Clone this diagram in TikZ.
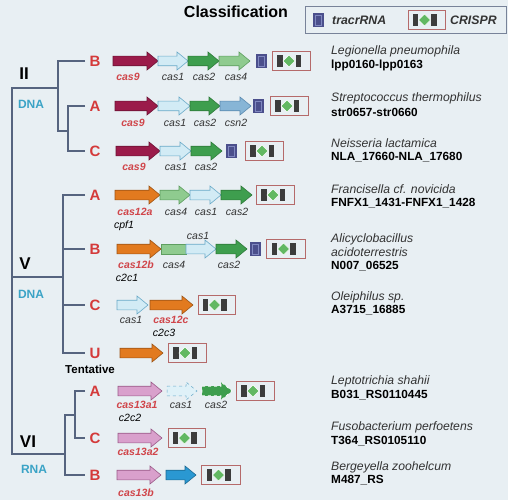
\documentclass[tikz,border=0pt]{standalone}
\usepackage{fontspec}
\setmainfont{Liberation Sans}
\definecolor{bg}{HTML}{E8EFF3}
\definecolor{treec}{HTML}{56647F}
\definecolor{labred}{HTML}{D43A3A}
\definecolor{genered}{HTML}{D0454A}
\definecolor{dnac}{HTML}{3AA3C6}
\definecolor{c9}{HTML}{9B1B4A}
\definecolor{c1f}{HTML}{D2EBF5}
\definecolor{c1d}{HTML}{6AAAC8}
\definecolor{c2}{HTML}{3E9E4E}
\definecolor{c2d}{HTML}{2E7A3A}
\definecolor{c4}{HTML}{8FCB8F}
\definecolor{c4d}{HTML}{5E9E60}
\definecolor{csn}{HTML}{87B5D6}
\definecolor{csnd}{HTML}{5A8AB0}
\definecolor{orng}{HTML}{E27A1F}
\definecolor{orngd}{HTML}{A85510}
\definecolor{pnk}{HTML}{D9A0CC}
\definecolor{pnkd}{HTML}{9A5A88}
\definecolor{blu}{HTML}{2A98D2}
\definecolor{blud}{HTML}{1A6A9A}
\definecolor{trc}{HTML}{4B4F8C}
\definecolor{trcl}{HTML}{8088C0}
\definecolor{crb}{HTML}{B56A6A}
\definecolor{blk}{HTML}{3C3C3C}
\definecolor{dia}{HTML}{62B862}
\definecolor{txt}{HTML}{333333}
\newcommand\gene[4][]{%
  \filldraw[line width=0.6pt,#1] (#2,{#4-4.8}) -- ({#3-11},{#4-4.8}) -- ({#3-11},{#4-9}) -- (#3,#4) -- ({#3-11},{#4+9}) -- ({#3-11},{#4+4.8}) -- (#2,{#4+4.8}) -- cycle;}
\newcommand\crispr[3]{%
  \pgfmathsetmacro\cx{(#1+#2)/2-2}
  \filldraw[draw=crb,fill=bg,line width=0.8pt] (#1,{#3-9.5}) rectangle (#2,{#3+9.5});
  \fill[blk] ({\cx-12},{#3-6}) rectangle ({\cx-6.5},{#3+6});
  \fill[blk] ({\cx+6.5},{#3-6}) rectangle ({\cx+12},{#3+6});
  \filldraw[fill=dia,draw=white,line width=0.4pt] ({\cx-6},#3) -- (\cx,{#3-6}) -- ({\cx+6},#3) -- (\cx,{#3+6}) -- cycle;}
\newcommand\tracr[2]{%
  \fill[trc] (#1,{#2-7}) rectangle ({#1+11},{#2+7});
  \draw[trcl,line width=0.5pt] ({#1+2.5},{#2-5}) rectangle ({#1+8.5},{#2+5});}
\tikzset{
  treeline/.style={draw=treec,line width=1.1pt},
  sublab/.style={text=labred,font=\fontsize{15}{15}\selectfont\bfseries,inner sep=0pt},
  typelab/.style={text=black,font=\fontsize{17}{17}\selectfont\bfseries,inner sep=0pt},
  kind/.style={text=dnac,font=\fontsize{12}{12}\selectfont\bfseries,inner sep=0pt},
  gl/.style={text=txt,font=\fontsize{10.5}{10.5}\selectfont\itshape,inner sep=0pt},
  gr/.style={text=genered,font=\fontsize{10.5}{10.5}\selectfont\itshape\bfseries,inner sep=0pt},
  sp/.style={text=txt,font=\fontsize{12.2}{12.2}\selectfont\itshape,inner sep=0pt,anchor=west},
  lc/.style={text=black,font=\fontsize{11.8}{11.8}\selectfont\bfseries,inner sep=0pt,anchor=west},
  ga/.style={fill=#1,draw=#1!70!black},
}
\begin{document}
\begin{tikzpicture}[x=1pt,y=-1pt]
\fill[bg] (0,0) rectangle (508,500);
\useasboundingbox (0,0) rectangle (508,500);
% title and legend
\node[font=\fontsize{16}{16}\selectfont\bfseries,inner sep=0pt] (title) at (236,12) {Classification};
\draw[draw=treec!80,fill=bg,line width=0.6pt] (305,6) rectangle (506,33);
\tracr{313}{20}
\node[anchor=west,font=\fontsize{12.3}{12.3}\selectfont\itshape\bfseries,text=txt,inner sep=0pt] (lt) at (332,20) {tracrRNA};
\crispr{408}{445}{20}
\node[anchor=west,font=\fontsize{12.3}{12.3}\selectfont\itshape\bfseries,text=txt,inner sep=0pt] (lc) at (450,20) {CRISPR};
% tree
\draw[treeline] (58,88) -- (12,88) -- (12,454) -- (65,454);
\draw[treeline] (85,61) -- (58,61) -- (58,131) -- (68,131);
\draw[treeline] (85,106) -- (68,106) -- (68,151) -- (85,151);
\draw[treeline] (12,277) -- (63,277);
\draw[treeline] (85,195) -- (63,195) -- (63,353) -- (85,353);
\draw[treeline] (63,249) -- (85,249);
\draw[treeline] (63,305) -- (85,305);
\draw[treeline] (75,415) -- (65,415) -- (65,475) -- (85,475);
\draw[treeline] (85,391) -- (75,391) -- (75,438) -- (85,438);
% type labels
\node[typelab] (tII) at (24,74) {II};
\node[kind] (dII) at (31,104) {DNA};
\node[typelab] (tV) at (25,264) {V};
\node[kind] (dV) at (31,294) {DNA};
\node[typelab] (tVI) at (28,442) {VI};
\node[kind] (dVI) at (34,469) {RNA};
% subtype labels
\node[sublab] (sIIB) at (95,61) {B};
\node[sublab] (sIIA) at (95,106) {A};
\node[sublab] (sIIC) at (95,151) {C};
\node[sublab] (sVA) at (95,195) {A};
\node[sublab] (sVB) at (95,249) {B};
\node[sublab] (sVC) at (95,305) {C};
\node[sublab] (sVU) at (95,353) {U};
\node[inner sep=0pt,font=\fontsize{11.5}{11.5}\selectfont\bfseries] (tent) at (90,369) {Tentative};
\node[sublab] (sVIA) at (95,391) {A};
\node[sublab] (sVIC) at (95,438) {C};
\node[sublab] (sVIB) at (95,475) {B};
% II-B
\gene[ga=c9]{113}{158}{61}
\gene[fill=c1f,draw=c1d]{158}{188}{61}
\gene[fill=c2,draw=c2d]{188}{219}{61}
\gene[fill=c4,draw=c4d]{219}{250}{61}
\tracr{256}{61}
\crispr{272}{310}{61}
\node[gr] (g1) at (128,77) {cas9};
\node[gl] (g2) at (173,77) {cas1};
\node[gl] (g3) at (204,77) {cas2};
\node[gl] (g4) at (236,77) {cas4};
% II-A
\gene[ga=c9]{115}{158}{106}
\gene[fill=c1f,draw=c1d]{158}{190}{106}
\gene[fill=c2,draw=c2d]{190}{220}{106}
\gene[fill=csn,draw=csnd]{220}{251}{106}
\tracr{253}{106}
\crispr{270}{308}{106}
\node[gr] (g5) at (133,123) {cas9};
\node[gl] (g6) at (175,123) {cas1};
\node[gl] (g7) at (205,123) {cas2};
\node[gl] (g8) at (236,123) {csn2};
% II-C
\gene[ga=c9]{116}{160}{151}
\gene[fill=c1f,draw=c1d]{160}{191}{151}
\gene[fill=c2,draw=c2d]{191}{222}{151}
\tracr{226}{151}
\crispr{245}{283}{151}
\node[gr] (g9) at (134,167) {cas9};
\node[gl] (g10) at (176,167) {cas1};
\node[gl] (g11) at (206,167) {cas2};
% V-A
\gene[ga=orng]{115}{160}{195}
\gene[fill=c4,draw=c4d]{160}{190}{195}
\gene[fill=c1f,draw=c1d]{190}{221}{195}
\gene[fill=c2,draw=c2d]{221}{252}{195}
\crispr{256}{294}{195}
\node[gr] (g12) at (135,212) {cas12a};
\node[gl] (g13) at (176,212) {cas4};
\node[gl] (g14) at (206,212) {cas1};
\node[gl] (g15) at (237,212) {cas2};
\node[gl,text=black] (g16) at (124,226) {cpf1};
% V-B
\gene[ga=orng]{117}{161}{249}
\filldraw[fill=c4,draw=c4d,line width=0.6pt] (161,244.2) rectangle (186,253.8);
\gene[fill=c1f,draw=c1d]{186}{216}{249}
\gene[fill=c2,draw=c2d]{216}{247}{249}
\tracr{250}{249}
\crispr{266}{305}{249}
\node[gl] (g17) at (198,236) {cas1};
\node[gr] (g18) at (136,265) {cas12b};
\node[gl] (g19) at (174,265) {cas4};
\node[gl] (g20) at (229,265) {cas2};
\node[gl,text=black] (g21) at (127,278) {c2c1};
% V-C
\gene[fill=c1f,draw=c1d]{117}{148}{305}
\gene[ga=orng]{150}{193}{305}
\crispr{198}{235}{305}
\node[gl] (g22) at (131,320) {cas1};
\node[gr] (g23) at (171,320) {cas12c};
\node[gl,text=black] (g24) at (164,333) {c2c3};
% V-U
\gene[ga=orng]{120}{163}{353}
\crispr{168}{206}{353}
% VI-A
\gene[fill=pnk,draw=pnkd]{118}{162}{391}
\gene[fill=c1f!70,draw=c1d,dashed,line width=0.5pt]{167}{197}{391}
\gene[fill=c2,draw=white,dashed,line width=0.7pt]{202}{232}{391}
\crispr{236}{274}{391}
\node[gr] (g25) at (137,405) {cas13a1};
\node[gl] (g26) at (181,405) {cas1};
\node[gl] (g27) at (216,405) {cas2};
\node[gl,text=black] (g28) at (130,418) {c2c2};
% VI-C
\gene[fill=pnk,draw=pnkd]{118}{162}{438}
\crispr{168}{205}{438}
\node[gr] (g29) at (138,452) {cas13a2};
% VI-B
\gene[fill=pnk,draw=pnkd]{117}{161}{475}
\gene[ga=blu]{166}{196}{475}
\crispr{201}{240}{475}
\node[gr] (g30) at (136,493) {cas13b};
% species
\node[sp] (p1) at (331,51) {Legionella pneumophila};
\node[lc] (l1) at (331,65) {lpp0160-lpp0163};
\node[sp] (p2) at (331,98) {Streptococcus thermophilus};
\node[lc] (l2) at (331,112) {str0657-str0660};
\node[sp] (p3) at (331,143) {Neisseria lactamica};
\node[lc] (l3) at (331,157) {NLA\_17660-NLA\_17680};
\node[sp] (p4) at (331,189) {Francisella cf. novicida};
\node[lc] (l4) at (331,203) {FNFX1\_1431-FNFX1\_1428};
\node[sp] (p5) at (331,239) {Alicyclobacillus};
\node[sp] (p5b) at (331,252) {acidoterrestris};
\node[lc] (l5) at (331,266) {N007\_06525};
\node[sp] (p6) at (331,297) {Oleiphilus sp.};
\node[lc] (l6) at (331,310) {A3715\_16885};
\node[sp] (p7) at (331,381) {Leptotrichia shahii};
\node[lc] (l7) at (331,395) {B031\_RS0110445};
\node[sp] (p8) at (331,427) {Fusobacterium perfoetens};
\node[lc] (l8) at (331,441) {T364\_RS0105110};
\node[sp] (p9) at (331,467) {Bergeyella zoohelcum};
\node[lc] (l9) at (331,480) {M487\_RS};
\end{tikzpicture}
\end{document}
